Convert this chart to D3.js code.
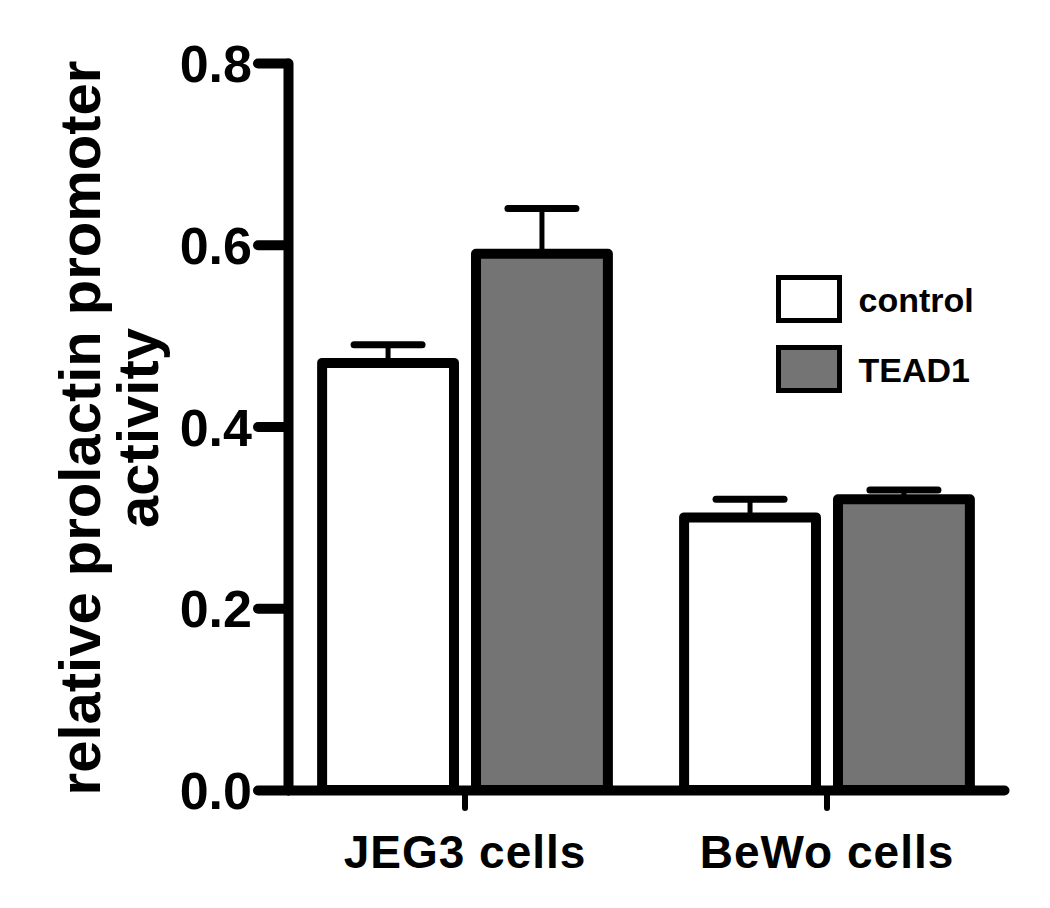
<!DOCTYPE html>
<html>
<head>
<meta charset="utf-8">
<script src="https://cdn.jsdelivr.net/npm/d3@7"></script>
<style>
  body { margin: 0; background: #fff; }
  text { font-family: "Liberation Sans", Arial, sans-serif; font-weight: bold; fill: #000; }
</style>
</head>
<body>
<svg id="chart" width="1050" height="908"></svg>
<script>
const cells = ['JEG3 cells', 'BeWo cells'];
const groups = ['control', 'TEAD1'];
const controlMean = [0.47, 0.30];
const controlErr = [0.02, 0.02];
const tead1Mean = [0.59, 0.32];
const tead1Err = [0.05, 0.01];
const yTicks = [0.0, 0.2, 0.4, 0.6, 0.8];
const titleLines = ['relative prolactin promoter', 'activity'];

const colors = { control: '#ffffff', TEAD1: '#747474' };

const rows = [];
cells.forEach((c, i) => {
  rows.push({ cell: c, group: 'control', mean: controlMean[i], err: controlErr[i] });
  rows.push({ cell: c, group: 'TEAD1', mean: tead1Mean[i], err: tead1Err[i] });
});

const svg = d3.select('#chart');

const y = d3.scaleLinear().domain([0, 0.8]).range([790, 63]);
const x0 = d3.scaleBand().domain(cells).range([288, 1004]).paddingInner(0.1).paddingOuter(0.039);
const x1 = d3.scaleBand().domain(groups).range([0, x0.bandwidth()]).paddingInner(0.143).paddingOuter(0.13);

// bars
svg.append('g')
  .selectAll('rect')
  .data(rows)
  .join('rect')
  .attr('x', (d) => x0(d.cell) + x1(d.group))
  .attr('y', (d) => y(d.mean))
  .attr('width', x1.bandwidth())
  .attr('height', (d) => y(0) - y(d.mean))
  .attr('fill', (d) => colors[d.group])
  .attr('stroke', '#000')
  .attr('stroke-width', 10)
  .attr('stroke-linejoin', 'round');

// error bars (upper only)
const err = svg.append('g').selectAll('g').data(rows).join('g');
err.append('line')
  .attr('x1', (d) => x0(d.cell) + x1(d.group) + x1.bandwidth() / 2)
  .attr('x2', (d) => x0(d.cell) + x1(d.group) + x1.bandwidth() / 2)
  .attr('y1', (d) => y(d.mean))
  .attr('y2', (d) => y(d.mean + d.err))
  .attr('stroke', '#000')
  .attr('stroke-width', 5);
err.append('line')
  .attr('x1', (d) => x0(d.cell) + x1(d.group) + x1.bandwidth() / 2 - 34)
  .attr('x2', (d) => x0(d.cell) + x1(d.group) + x1.bandwidth() / 2 + 34)
  .attr('y1', (d) => y(d.mean + d.err))
  .attr('y2', (d) => y(d.mean + d.err))
  .attr('stroke', '#000')
  .attr('stroke-width', 7)
  .attr('stroke-linecap', 'round');

// y axis
const yAxis = svg.append('g')
  .attr('transform', 'translate(288,0)')
  .call(d3.axisLeft(y).tickValues(yTicks).tickSize(30).tickSizeOuter(0).tickPadding(6).tickFormat(d3.format('.1f')));
yAxis.select('.domain').attr('stroke-width', 10).attr('stroke-linecap', 'round');
yAxis.selectAll('.tick line').attr('stroke-width', 10).attr('stroke-linecap', 'round');
yAxis.selectAll('.tick text').attr('font-size', 52).attr('font-family', null).attr('dy', '0.36em');
yAxis.attr('font-family', null);

// x axis
const xAxis = svg.append('g')
  .attr('transform', 'translate(0,790)')
  .call(d3.axisBottom(x0).tickSize(18).tickSizeOuter(0).tickPadding(27));
xAxis.select('.domain').attr('stroke-width', 10).attr('stroke-linecap', 'round');
xAxis.selectAll('.tick line').attr('stroke-width', 6).attr('stroke-linecap', 'round');
xAxis.selectAll('.tick text').attr('font-size', 46).attr('letter-spacing', 1);
xAxis.attr('font-family', null);

// y title
svg.append('g')
  .selectAll('text')
  .data(titleLines)
  .join('text')
  .attr('transform', (d, i) => `translate(${100 + i * 58},428) rotate(-90)`)
  .attr('text-anchor', 'middle')
  .attr('font-size', 58)
  .text((d) => d);

// legend
const legend = svg.append('g')
  .selectAll('g')
  .data(groups)
  .join('g')
  .attr('transform', (d, i) => `translate(778.5,${277.5 + i * 70})`);
legend.append('rect')
  .attr('width', 61)
  .attr('height', 43)
  .attr('fill', (d) => colors[d])
  .attr('stroke', '#000')
  .attr('stroke-width', 5);
legend.append('text')
  .attr('x', 80)
  .attr('y', 34)
  .attr('font-size', 34)
  .text((d) => d);
</script>
</body>
</html>
